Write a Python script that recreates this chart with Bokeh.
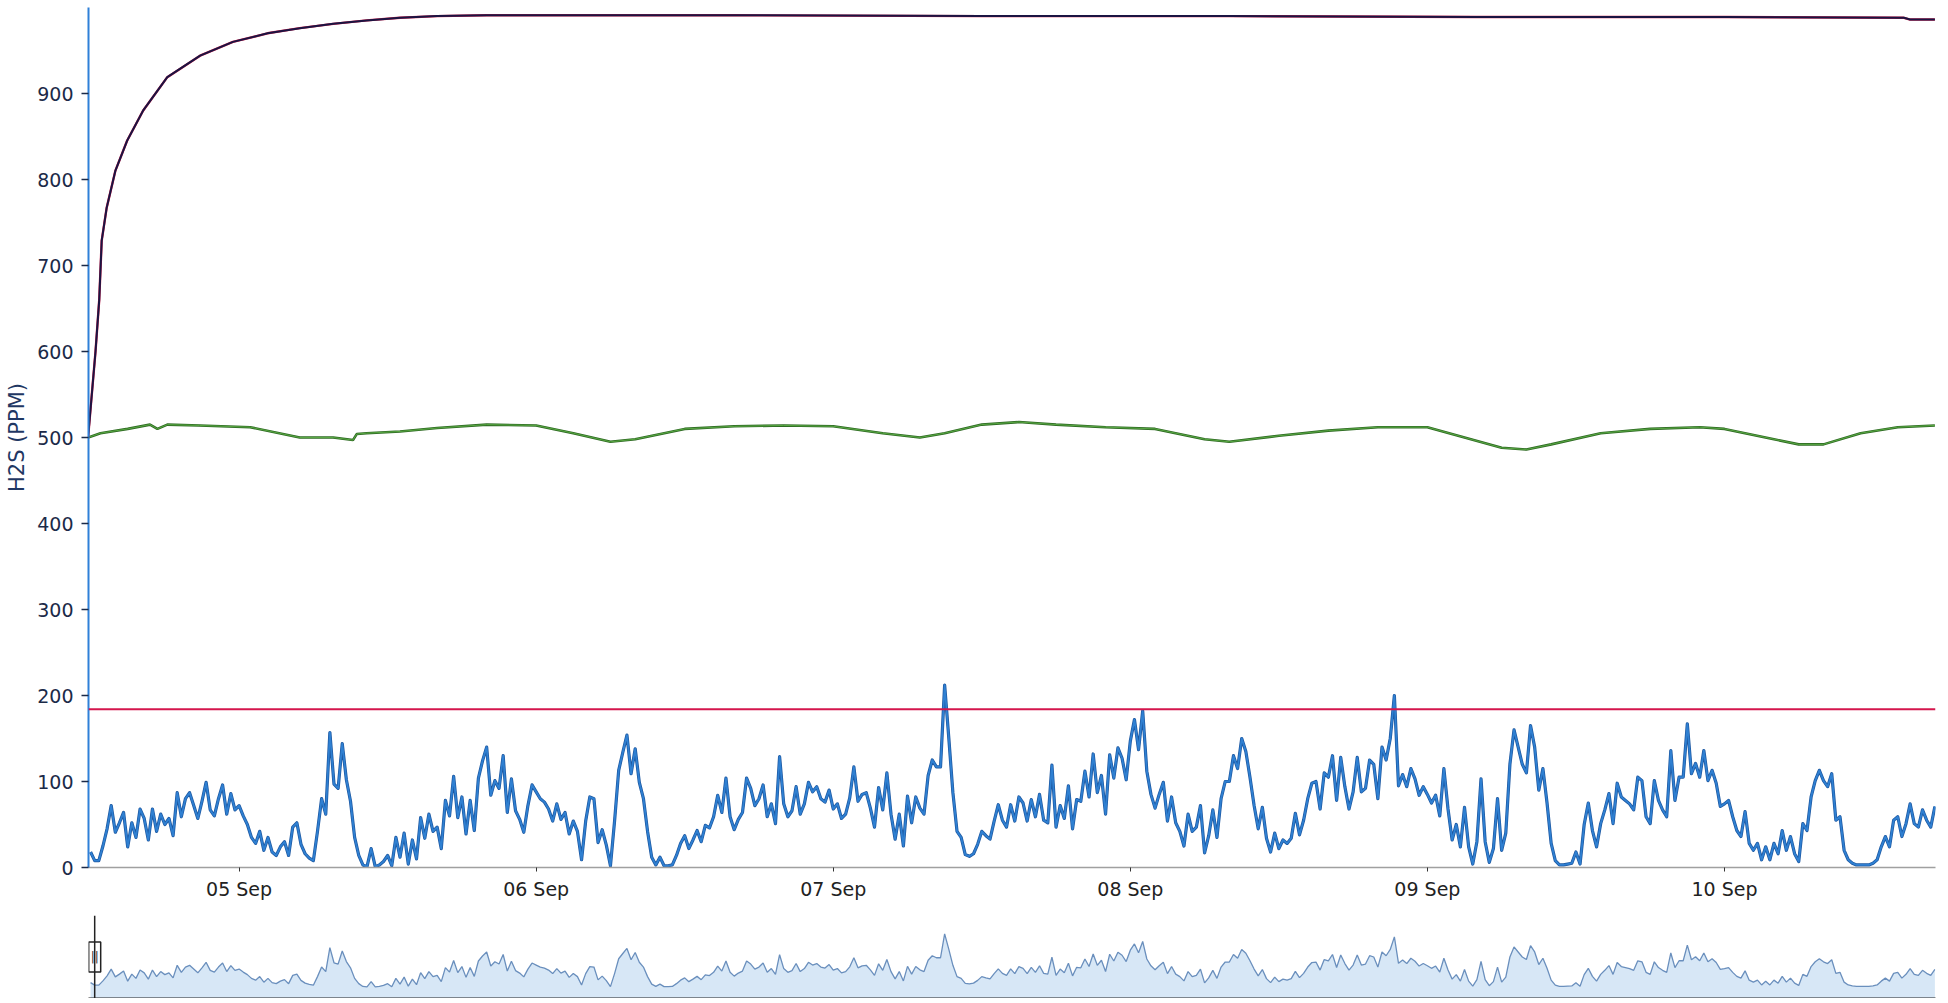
import numpy as np
import pandas as pd
from bokeh.plotting import figure
from bokeh.layouts import column
from bokeh.models import Range1d, FixedTicker, DatetimeTickFormatter, Span
from bokeh.embed import file_html
from bokeh.resources import INLINE
from bokeh.core.properties import value

# ---------------- data ----------------
SERIES_START = "2023-09-04 12:00"   # first H2S sample
STEP_MINUTES = 20                    # sampling step of the H2S series
h2s_ppm = [
    18, 8, 8, 25, 45, 72, 41, 52, 64, 24,
    52, 35, 68, 57, 32, 68, 42, 62, 50, 57,
    37, 87, 59, 80, 87, 72, 57, 77, 99, 67,
    60, 80, 96, 62, 86, 67, 72, 60, 50, 35,
    28, 42, 20, 35, 18, 14, 24, 30, 14, 47,
    52, 27, 16, 11, 8, 42, 80, 62, 157, 97,
    92, 144, 102, 77, 35, 14, 3, 1, 22, 1,
    3, 7, 14, 2, 35, 12, 40, 4, 32, 10,
    58, 34, 62, 42, 47, 22, 78, 60, 106, 58,
    82,
    39, 78, 43, 104, 124, 140, 84, 101, 92, 130,
    64, 103, 66, 56, 41, 72, 96, 88, 80, 76,
    68, 54, 74, 56, 64, 39, 54, 42, 9, 54,
    82, 80, 29, 44, 26, 2, 54, 113, 134, 154,
    109, 138, 99, 80, 42, 12, 3, 12, 2, 2,
    3, 14, 28, 37, 22, 32, 43, 30, 49, 46,
    59, 84, 64, 104, 59, 44, 56, 64, 104, 92,
    72, 80, 96, 59, 74, 51, 129, 74, 59, 66,
    94, 62, 74, 99, 88, 94, 80, 76, 90, 68,
    74,
    57, 62, 81, 117, 77, 85, 87, 69, 47, 93,
    67, 110, 62, 33, 62, 25, 83, 52, 82, 69,
    62, 107, 125, 117, 117, 212, 151, 87, 42, 35,
    15, 13, 16, 27, 42, 37, 33, 54, 73, 55,
    47, 73, 54, 82, 75, 54, 79, 59, 85, 55,
    52, 119, 47, 72, 57, 95, 45, 79, 77, 112,
    82, 132, 87, 107, 62, 131, 104, 139, 127, 102,
    147, 172, 137, 182, 112, 85, 69, 85, 99, 54,
    82, 52, 42, 25, 62, 42, 47, 72, 17, 37,
    67,
    35, 80, 100, 100, 130, 115, 150, 135, 105, 72,
    45, 70, 34, 18, 40, 22, 32, 28, 34, 63,
    38, 55, 80, 98, 100, 68, 110, 105, 130, 78,
    128, 94, 68, 88, 128, 88, 92, 125, 120, 80,
    140, 125, 150, 200, 95, 108, 94, 115, 103, 84,
    94, 85, 75, 84, 60, 115, 68, 32, 50, 24,
    70, 24, 4, 30, 103, 30, 6, 22, 80, 20,
    40, 120, 160, 140, 120, 110, 165, 140, 90, 115,
    75, 28, 8, 3, 3, 4, 5, 18, 4, 50,
    75,
    43, 24, 51, 67, 86, 51, 98, 82, 78, 74,
    67, 105, 101, 59, 51, 101, 78, 67, 59, 136,
    78, 105, 105, 167, 109, 121, 105, 136, 101, 113,
    98, 71, 74, 78, 59, 43, 36, 65, 28, 20,
    28, 9, 24, 9, 28, 16, 43, 20, 36, 16,
    7, 51, 43, 82, 101, 113, 101, 94, 109, 55,
    59, 20, 9, 5, 3, 3, 3, 3, 5, 9,
    24, 36, 24, 55, 59, 36, 51, 74, 51, 47,
    67, 55, 47, 71,
]

REF_DAY = "2023-09-05 00:00"         # hours below are counted from this instant
green_hours = [-12.2, -11.2, -9, -7.2, -6.6, -5.8, -3.2, 0.9, 4.9, 7.6, 9.2, 9.5,
               10.3, 13, 16, 20, 24, 27, 30, 32, 36, 40, 44, 48, 52, 55, 57, 60,
               63, 66, 70, 74, 78, 80, 84, 88, 92, 96, 99, 102, 104, 106, 110,
               114, 118, 120, 124, 126, 128, 131, 134, 137]
green_ppm = [500, 505, 510, 515, 510, 515, 514, 512, 500, 500, 497, 504,
             505, 507, 511, 515, 514, 505, 495, 498, 510, 513, 514, 513, 505, 500, 505, 515,
             518, 515, 512, 510, 498, 495, 502, 508, 512, 512, 500, 488, 486, 492, 505,
             510, 512, 510, 498, 492, 492, 505, 512, 514]

upper_hours = [-12.2, -11.6, -11.3, -11.1, -10.7, -10.0, -9.05, -7.76, -5.8, -3.15,
               -0.5, 2.3, 4.9, 7.6, 10.3, 13, 16, 20, 40, 60, 80, 100, 120, 134.5,
               135, 137]
upper_ppm = [500, 600, 660, 729, 767, 810, 845, 880, 919, 944,
             960, 970, 976, 981, 985, 988, 990, 991, 991, 990, 990, 989, 989, 988,
             986, 986]

LIMIT_PPM = 184

X_START = "2023-09-04 11:50"
X_END = "2023-09-10 17:03"
HANDLE_TIME = "2023-09-04 12:20"
Y_TICKS = [0, 100, 200, 300, 400, 500, 600, 700, 800, 900]
X_TICK_DAYS = ["2023-09-05", "2023-09-06", "2023-09-07", "2023-09-08",
               "2023-09-09", "2023-09-10"]
NAV_Y = (-45, 285)
Y_TITLE = "H2S (PPM)"

# ---------------- derived ----------------
t_blue = pd.Timestamp(SERIES_START) + pd.to_timedelta(np.arange(len(h2s_ppm)) * STEP_MINUTES, unit="min")
ref = pd.Timestamp(REF_DAY)
t_green = ref + pd.to_timedelta(np.array(green_hours), unit="h")
t_upper = ref + pd.to_timedelta(np.array(upper_hours), unit="h")


def ms(ts):
    return pd.Timestamp(ts).value // 10**6


FONT = "DejaVu Sans"
FRAME_W = 1847
LEFT = 88

x_range = Range1d(pd.Timestamp(X_START).to_pydatetime(), pd.Timestamp(X_END).to_pydatetime())

p = figure(width=LEFT + FRAME_W + 8, height=907, x_axis_type="datetime",
           x_range=x_range, y_range=Range1d(0, 1000),
           output_backend="svg", toolbar_location=None,
           min_border_left=LEFT, min_border_right=8, min_border_top=7, min_border_bottom=40)
p.outline_line_color = None
p.xgrid.visible = False
p.ygrid.visible = False

# y axis
p.yaxis.ticker = FixedTicker(ticks=Y_TICKS)
p.yaxis.axis_line_color = "#2f80d8"
p.yaxis.axis_line_width = 2
p.yaxis.major_tick_line_color = "#1b2a48"
p.yaxis.major_tick_line_width = 1.5
p.yaxis.major_tick_out = 7
p.yaxis.major_tick_in = 0
p.yaxis.minor_tick_line_color = None
p.yaxis.major_label_standoff = 8
p.yaxis.major_label_text_font = FONT
p.yaxis.major_label_text_font_size = "19px"
p.yaxis.major_label_text_color = "#1b2a48"
p.yaxis.axis_label = Y_TITLE
p.yaxis.axis_label_text_font = FONT
p.yaxis.axis_label_text_font_size = "21px"
p.yaxis.axis_label_text_font_style = "normal"
p.yaxis.axis_label_text_color = "#1f3763"
p.yaxis.axis_label_standoff = 5

# x axis
p.xaxis.ticker = FixedTicker(ticks=[ms(d) for d in X_TICK_DAYS])
p.xaxis.formatter = DatetimeTickFormatter(days="%d %b", months="%d %b", hours="%d %b")
p.xaxis.axis_line_color = "#a0a0a0"
p.xaxis.axis_line_width = 1.5
p.xaxis.major_tick_line_color = "#333333"
p.xaxis.major_tick_out = 4
p.xaxis.major_tick_in = 0
p.xaxis.minor_tick_line_color = None
p.xaxis.major_label_standoff = 6
p.xaxis.major_label_text_font = FONT
p.xaxis.major_label_text_font_size = "19px"
p.xaxis.major_label_text_color = "#222222"

# series
p.add_layout(Span(location=LIMIT_PPM, dimension="width", line_color="#d4164c", line_width=2.2))
p.line(t_green, green_ppm, line_color="#2f6b24", line_width=2.6)
p.line(t_green, green_ppm, line_color="#58a842", line_width=1.0)
p.line(t_upper, upper_ppm, line_color="#d0204a", line_width=2.4, line_join="round")
p.line(t_upper, upper_ppm, line_color="#1b1442", line_width=2.0, line_join="round")
p.line(t_blue, h2s_ppm, line_color="#1d57a0", line_width=3.2, line_join="round")
p.line(t_blue, h2s_ppm, line_color="#2f80d2", line_width=1.8, line_join="round")

# ---------------- navigator ----------------
nav = figure(width=LEFT + FRAME_W + 8, height=91, x_axis_type="datetime",
             y_axis_location=None,
             x_range=x_range, y_range=Range1d(*NAV_Y),
             output_backend="svg", toolbar_location=None,
             min_border_left=LEFT, min_border_right=8, min_border_top=8, min_border_bottom=0)
nav.outline_line_color = None
nav.xgrid.visible = False
nav.ygrid.visible = False
nav.xaxis.ticker = FixedTicker(ticks=[])
nav.xaxis.minor_tick_line_color = None
nav.xaxis.major_tick_line_color = None
nav.xaxis.major_label_standoff = 0
nav.xaxis.axis_line_color = "#222222"
nav.xaxis.axis_line_width = 2

nav.varea(x=t_blue, y1=NAV_Y[0], y2=h2s_ppm, fill_color="#d7e7f6")
nav.line(t_blue, h2s_ppm, line_color="#6a8fbd", line_width=1.3)

handle_x = pd.Timestamp(HANDLE_TIME)
nav.add_layout(Span(location=ms(handle_x), dimension="height", line_color="#222222", line_width=1.5))
handle_y = (NAV_Y[0] + NAV_Y[1]) / 2
nav.rect(x=[handle_x], y=[handle_y], width=12, height=30, width_units="screen", height_units="screen",
         fill_color="white", line_color="#222222", line_width=1.5)
nav.text(x=[handle_x], y=[handle_y], text=["||"], text_align="center", text_baseline="middle",
         text_font=value(FONT), text_font_size="12px", text_color="#333333")

layout = column(p, nav, spacing=0)
open("out.html", "w").write(file_html(layout, INLINE))
